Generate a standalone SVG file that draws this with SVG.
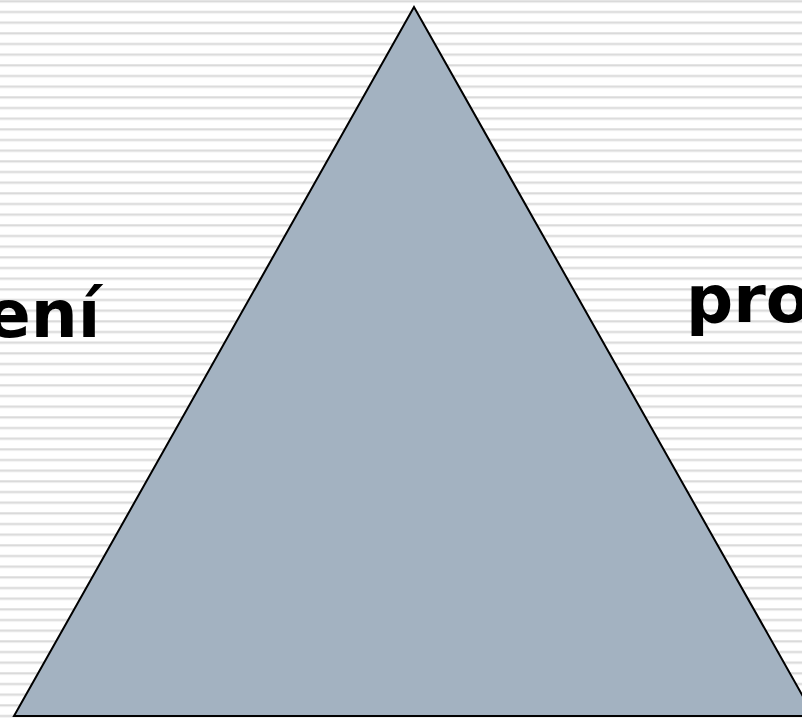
<svg xmlns="http://www.w3.org/2000/svg" width="802" height="718" viewBox="0 0 802 718">
<defs>
<pattern id="stripes" x="0" y="0" width="802" height="10.667" patternUnits="userSpaceOnUse">
<rect x="0" y="0" width="802" height="10.667" fill="#ffffff"/>
<rect x="0" y="0" width="802" height="1" fill="#e4e4e4"/>
<rect x="0" y="1" width="802" height="1" fill="#d8d8d8"/>
<rect x="0" y="2" width="802" height="1" fill="#ececec"/>
</pattern>
<style>
.lbl{font-family:"DejaVu Sans",Verdana,sans-serif;font-weight:bold;font-size:66px;fill:#000}
</style>
</defs>
<rect id="background" x="0" y="0" width="802" height="718" fill="url(#stripes)"/>
<g id="left-label"><text class="lbl" x="-14" y="337">ení</text></g>
<g id="right-label"><text class="lbl" x="686" y="322">pro</text></g>
<g id="triangle"><polygon points="414,7 14,716 814,716" fill="#a3b2c1" stroke="#000" stroke-width="2" stroke-linejoin="miter"/></g>
</svg>
